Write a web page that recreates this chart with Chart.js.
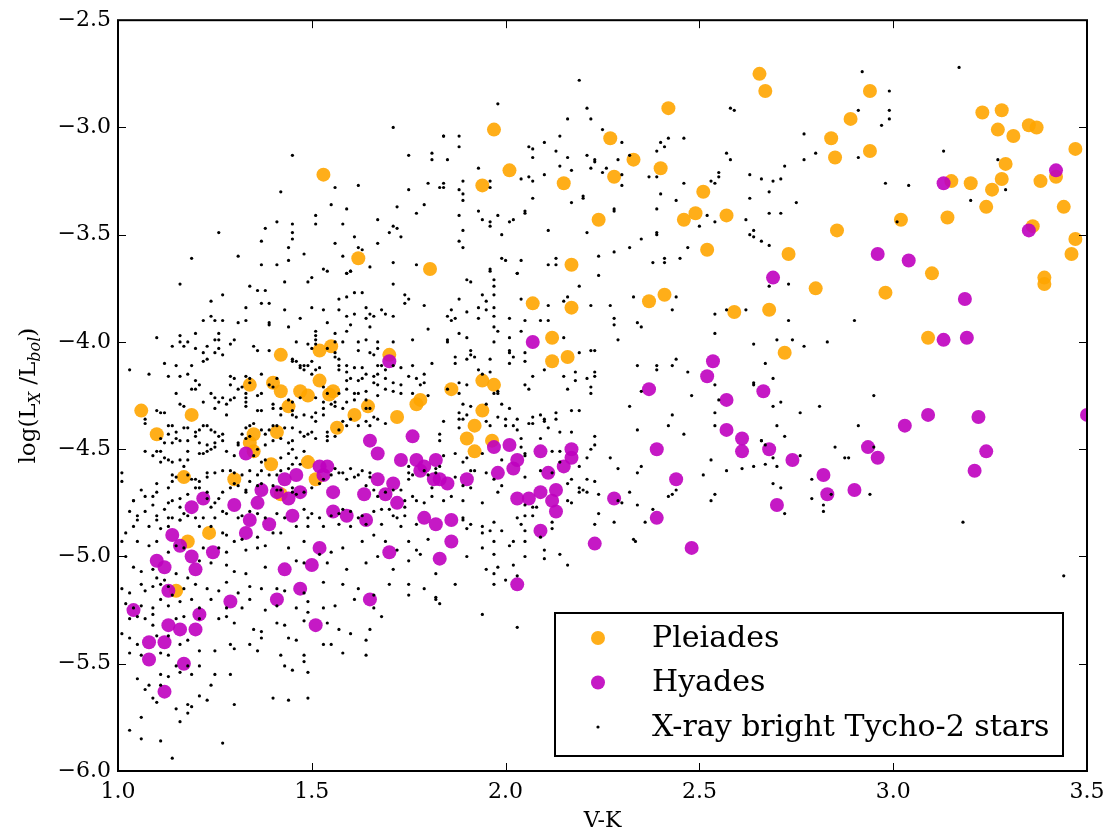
<!DOCTYPE html>
<html>
<head>
<meta charset="utf-8">
<script src="https://cdn.jsdelivr.net/npm/chart.js@4.4.0/dist/chart.umd.min.js"></script>
<style>
  html, body { margin: 0; padding: 0; background: #fff; }
  canvas { display: block; }
</style>
</head>
<body>
<canvas id="chart" width="1114" height="838"></canvas>
<script>
// V-K colour vs log(Lx/Lbol)
const xTickValues = [1.0, 1.5, 2.0, 2.5, 3.0, 3.5];
const yTickValues = [-6.0, -5.5, -5.0, -4.5, -4.0, -3.5, -3.0, -2.5];

const pleiades = [
  [1.06,-4.32],[1.10,-4.43],[1.17,-4.63],[1.19,-4.34],[1.18,-4.93],[1.15,-5.16],[1.235,-4.89],[1.30,-4.64],
  [1.34,-4.20],[1.42,-4.06],[1.40,-4.19],[1.42,-4.23],[1.44,-4.30],[1.47,-4.23],[1.49,-4.25],[1.52,-4.04],
  [1.55,-4.02],[1.52,-4.18],[1.555,-4.23],[1.545,-4.245],[1.61,-4.34],[1.645,-4.30],[1.70,-4.06],[1.78,-4.27],
  [1.77,-4.29],[1.72,-4.35],[1.565,-4.40],[1.35,-4.43],[1.34,-4.47],[1.35,-4.51],[1.41,-4.42],[1.395,-4.57],
  [1.49,-4.56],[1.51,-4.64],[1.42,-4.71],[1.805,-3.66],[1.53,-3.22],[1.62,-3.61],[1.97,-3.01],[1.94,-3.27],
  [2.01,-3.20],[2.15,-3.26],[2.27,-3.05],[2.28,-3.23],[2.33,-3.15],[2.42,-2.91],[2.40,-3.19],[2.24,-3.43],
  [2.17,-3.64],[2.51,-3.30],[2.49,-3.40],[2.46,-3.43],[2.57,-3.41],[2.52,-3.57],[2.655,-2.75],[2.67,-2.83],
  [2.94,-2.83],[2.89,-2.96],[2.84,-3.05],[2.85,-3.14],[2.94,-3.11],[3.23,-2.93],[3.28,-2.92],[3.27,-3.01],
  [3.31,-3.04],[3.35,-2.99],[3.37,-3.00],[3.47,-3.10],[3.29,-3.17],[3.28,-3.24],[3.255,-3.29],[3.20,-3.26],
  [3.15,-3.25],[3.24,-3.37],[3.38,-3.25],[3.42,-3.23],[3.44,-3.37],[3.14,-3.42],[3.02,-3.43],[2.855,-3.48],
  [2.73,-3.59],[3.36,-3.46],[3.47,-3.52],[3.46,-3.59],[3.10,-3.68],[3.39,-3.70],[3.39,-3.73],[2.80,-3.75],
  [2.98,-3.77],[2.68,-3.85],[3.09,-3.98],[2.72,-4.05],[2.07,-3.82],[2.17,-3.84],[2.12,-3.98],[2.12,-4.09],
  [2.16,-4.07],[2.37,-3.81],[2.41,-3.78],[2.59,-3.86],[1.86,-4.22],[1.94,-4.18],[1.97,-4.20],[1.94,-4.32],
  [1.92,-4.39],[1.90,-4.45],[1.92,-4.51],[1.965,-4.46]
];

const hyades = [
  [3.13,-3.26],[3.42,-3.20],[3.35,-3.48],[2.96,-3.59],[3.04,-3.62],[2.69,-3.70],[3.185,-3.80],[3.13,-3.99],
  [3.19,-3.98],[2.665,-4.23],[3.03,-4.39],[3.09,-4.34],[3.22,-4.35],[3.50,-4.34],[3.24,-4.51],[3.21,-4.60],
  [2.935,-4.49],[2.96,-4.54],[2.68,-4.50],[2.74,-4.55],[2.82,-4.62],[2.83,-4.71],[2.90,-4.69],[2.70,-4.76],
  [2.07,-4.00],[2.37,-4.22],[2.535,-4.09],[2.52,-4.16],[2.57,-4.27],[2.57,-4.41],[2.61,-4.45],[2.61,-4.51],
  [2.39,-4.50],[2.44,-4.64],[2.39,-4.82],[2.28,-4.73],[2.01,-4.48],[1.97,-4.49],[2.09,-4.51],[2.17,-4.50],
  [2.17,-4.54],[2.15,-4.58],[2.03,-4.55],[2.02,-4.59],[2.11,-4.61],[1.98,-4.61],[1.90,-4.64],[1.85,-4.66],
  [1.83,-4.64],[2.13,-4.69],[2.09,-4.70],[2.12,-4.74],[2.06,-4.73],[2.03,-4.73],[2.13,-4.79],[1.86,-4.83],
  [1.70,-4.09],[1.76,-4.44],[1.65,-4.46],[1.67,-4.52],[1.73,-4.55],[1.77,-4.55],[1.79,-4.58],[1.78,-4.60],
  [1.82,-4.55],[1.815,-4.64],[1.67,-4.64],[1.71,-4.66],[1.69,-4.71],[1.72,-4.75],[1.635,-4.71],[1.59,-4.81],
  [1.555,-4.79],[1.555,-4.70],[1.52,-4.58],[1.54,-4.58],[1.53,-4.62],[1.47,-4.70],[1.46,-4.62],[1.43,-4.64],
  [1.41,-4.70],[1.44,-4.73],[1.45,-4.81],[1.37,-4.69],[1.36,-4.75],[1.30,-4.76],[1.22,-4.73],[1.19,-4.77],
  [1.33,-4.52],[1.34,-4.83],[1.39,-4.85],[1.64,-4.83],[1.79,-4.82],[1.82,-4.85],[1.14,-4.90],[1.16,-4.95],
  [1.10,-5.02],[1.12,-5.05],[1.19,-5.00],[1.20,-5.06],[1.245,-4.98],[1.13,-5.16],[1.04,-5.25],[1.21,-5.27],
  [1.13,-5.32],[1.16,-5.34],[1.20,-5.34],[1.29,-5.21],[1.08,-5.40],[1.12,-5.40],[1.08,-5.48],[1.17,-5.50],
  [1.12,-5.63],[1.33,-4.89],[1.43,-5.06],[1.50,-5.04],[1.52,-4.96],[1.47,-5.15],[1.41,-5.20],[1.51,-5.32],
  [1.65,-5.20],[1.70,-4.98],[1.83,-5.01],[1.86,-4.93],[2.09,-4.88],[2.23,-4.94],[2.48,-4.96],[2.03,-5.13]
];

const tycho = [
  // upper left
  [1.71,-3.00],[1.45,-3.13],[1.75,-3.13],[1.81,-3.12],[1.81,-3.15],[1.84,-3.04],[1.56,-3.28],[1.62,-3.27],
  [1.75,-3.29],[1.80,-3.26],[1.83,-3.28],[1.42,-3.30],[1.55,-3.36],[1.59,-3.38],[1.72,-3.37],[1.79,-3.36],
  [1.77,-3.40],[1.51,-3.41],[1.67,-3.43],[1.41,-3.44],[1.45,-3.45],[1.51,-3.45],[1.58,-3.45],[1.71,-3.46],
  [1.72,-3.47],[1.70,-3.49],[1.73,-3.51],[1.61,-3.51],[1.38,-3.47],[1.45,-3.49],[1.45,-3.52],[1.26,-3.49],
  [1.37,-3.53],[1.44,-3.56],[1.56,-3.54],[1.62,-3.56],[1.63,-3.57],[1.67,-3.54],[1.48,-3.59],[1.19,-3.61],
  [1.31,-3.60],[1.37,-3.64],[1.41,-3.64],[1.44,-3.62],[1.58,-3.60],[1.53,-3.66],[1.59,-3.68],[1.60,-3.67],
  [1.65,-3.65],[1.71,-3.63],[1.77,-3.64],
  // upper middle
  [2.19,-2.78],[1.98,-2.89],[2.21,-2.91],[2.22,-2.96],[2.16,-2.96],[2.25,-3.01],[2.58,-2.91],[2.59,-2.92],
  [1.84,-3.04],[1.88,-3.04],[1.88,-3.09],[1.85,-3.15],[2.14,-3.04],[2.10,-3.07],[2.06,-3.09],[2.07,-3.10],
  [2.13,-3.11],[2.16,-3.14],[2.07,-3.14],[2.30,-3.07],[2.40,-3.07],[2.41,-3.09],[2.39,-3.11],[2.42,-3.05],
  [2.46,-3.05],[2.32,-3.13],[2.21,-3.13],[2.23,-3.15],[2.23,-3.16],[2.29,-3.15],[2.26,-3.19],[2.22,-3.19],
  [2.14,-3.18],[2.17,-3.20],[1.93,-3.19],[2.10,-3.22],[2.04,-3.24],[2.06,-3.23],[2.07,-3.25],[1.96,-3.25],
  [1.96,-3.28],[1.84,-3.26],[1.84,-3.28],[1.89,-3.25],[1.88,-3.29],[1.89,-3.31],[1.89,-3.34],[2.07,-3.33],
  [2.17,-3.35],[2.20,-3.32],[2.20,-3.33],[2.25,-3.21],[2.30,-3.22],[2.30,-3.27],[2.37,-3.23],[2.39,-3.23],
  [2.40,-3.31],[2.39,-3.38],[2.46,-3.26],[2.44,-3.34],[2.55,-3.21],[2.55,-3.23],[2.53,-3.25],[2.54,-3.26],
  [2.57,-3.12],[2.58,-3.15],[2.63,-3.22],[2.66,-3.24],[2.63,-3.33],[2.62,-3.43],[2.64,-3.48],[2.64,-3.51],
  [2.63,-3.50],[2.66,-3.53],[2.52,-3.41],[2.50,-3.46],[2.54,-3.44],[2.28,-3.38],[2.28,-3.39],[1.88,-3.41],
  [1.93,-3.39],[1.94,-3.43],[1.96,-3.44],[1.96,-3.46],[1.98,-3.41],[2.01,-3.44],[2.02,-3.43],[2.05,-3.40],
  [2.05,-3.39],[1.89,-3.48],[1.88,-3.53],[1.89,-3.56],[1.99,-3.50],[2.11,-3.48],[2.21,-3.49],[2.35,-3.52],
  [2.32,-3.56],[2.28,-3.58],[2.24,-3.60],[2.39,-3.49],[2.39,-3.50],[2.47,-3.56],[2.45,-3.61],[2.41,-3.61],
  [2.41,-3.63],[2.38,-3.63],[1.99,-3.61],[2.00,-3.62],[2.04,-3.62],[2.13,-3.61],[2.11,-3.64],[2.13,-3.64],
  [1.96,-3.66],[2.03,-3.68],
  // upper right
  [2.92,-2.74],[3.17,-2.72],[2.99,-2.83],[2.91,-2.92],[2.99,-2.92],[2.99,-2.96],[2.97,-2.99],[2.77,-3.03],
  [2.80,-3.12],[2.77,-3.15],[2.91,-3.14],[2.72,-3.18],[3.13,-3.11],[3.27,-3.15],[3.29,-3.29],[3.20,-3.34],
  [2.98,-3.26],[3.04,-3.27],[2.69,-3.25],[2.71,-3.24],[2.68,-3.30],[2.75,-3.35],[2.68,-3.40],[2.71,-3.40],
  [3.01,-3.44],[2.68,-3.55],
  // middle right
  [2.73,-3.73],[2.68,-3.74],[2.73,-3.90],[2.90,-3.90],[2.70,-3.99],[2.74,-3.99],[2.77,-4.02],[2.83,-4.00],
  [2.67,-4.10],[2.69,-4.17],[2.95,-4.25],[2.71,-4.28],[2.69,-4.30],[2.81,-4.30],[2.76,-4.33],[2.70,-4.39],
  [2.91,-4.39],[2.72,-4.44],[2.66,-4.46],[2.67,-4.48],[2.85,-4.49],[2.95,-4.49],[2.76,-4.53],[2.69,-4.54],
  [2.875,-4.54],[2.885,-4.54],[2.67,-4.57],[2.70,-4.58],[2.79,-4.64],[2.69,-4.66],[2.71,-4.68],[2.79,-4.73],
  [2.84,-4.71],[2.94,-4.71],[2.82,-4.76],[2.82,-4.79],[2.72,-4.80],[3.18,-4.84],[3.44,-5.09],
  // middle
  [1.96,-3.67],[2.03,-3.68],[2.24,-3.69],[1.90,-3.71],[1.91,-3.72],[1.97,-3.71],[1.97,-3.74],[2.19,-3.74],
  [1.94,-3.78],[1.97,-3.78],[1.88,-3.80],[1.95,-3.81],[2.04,-3.80],[2.16,-3.79],[2.15,-3.81],[2.33,-3.79],
  [2.44,-3.79],[1.86,-3.85],[1.90,-3.86],[1.93,-3.84],[1.95,-3.85],[1.97,-3.84],[1.85,-3.88],[1.87,-3.89],
  [1.86,-3.90],[1.93,-3.89],[1.97,-3.88],[2.01,-3.89],[2.05,-3.90],[2.09,-3.90],[2.11,-3.90],[2.11,-3.83],
  [2.22,-3.83],[2.27,-3.83],[2.28,-3.89],[2.28,-3.92],[2.34,-3.91],[2.35,-3.93],[2.43,-3.85],[2.54,-3.87],
  [2.54,-3.96],[2.57,-3.85],[2.62,-3.85],[2.64,-4.01],[1.97,-3.93],[1.98,-3.95],[1.88,-3.96],[2.04,-3.95],
  [2.15,-3.98],[2.29,-3.99],[1.90,-3.98],[2.01,-3.98],[1.85,-3.99],[1.85,-4.00],[1.97,-4.00],[1.91,-4.04],
  [1.91,-4.06],[1.92,-4.07],[1.87,-4.07],[1.90,-4.08],[1.96,-4.08],[2.01,-4.04],[2.01,-4.05],[2.02,-4.07],
  [2.05,-4.05],[2.05,-4.09],[2.19,-4.05],[2.22,-4.04],[2.23,-4.04],[1.87,-4.10],[2.01,-4.10],[2.10,-4.13],
  [2.07,-4.16],[2.15,-4.16],[2.18,-4.14],[2.21,-4.17],[2.23,-4.14],[2.23,-4.16],[1.93,-4.13],[1.96,-4.14],
  [1.94,-4.15],[2.34,-4.11],[2.39,-4.11],[2.39,-4.13],[2.43,-4.11],[2.44,-4.08],[2.47,-4.14],[2.54,-4.20],
  [2.64,-4.20],[2.64,-4.19],[2.05,-4.20],[2.06,-4.22],[2.16,-4.22],[2.22,-4.21],[2.22,-4.24],[2.18,-4.18],
  [1.88,-4.19],[1.90,-4.20],[1.85,-4.22],[1.88,-4.24],[1.98,-4.23],[1.98,-4.24],[1.97,-4.24],[1.99,-4.29],
  [2.35,-4.23],[2.48,-4.25],[2.55,-4.27],[2.32,-4.30],[1.89,-4.29],[1.91,-4.30],[1.95,-4.29],[2.01,-4.31],
  [2.17,-4.32],[2.19,-4.32],[1.88,-4.33],[1.90,-4.34],[1.98,-4.35],[2.00,-4.36],[2.03,-4.36],[2.07,-4.35],
  [2.09,-4.34],[2.13,-4.33],[2.10,-4.37],[2.10,-4.36],[2.13,-4.36],[2.06,-4.38],[2.07,-4.38],[1.84,-4.37],
  [1.88,-4.36],[1.89,-4.36],[1.95,-4.37],[1.88,-4.40],[1.96,-4.39],[2.00,-4.39],[2.02,-4.39],[2.03,-4.41],
  [2.11,-4.40],[2.14,-4.42],[2.17,-4.42],[2.43,-4.34],[2.42,-4.39],[2.34,-4.41],[2.46,-4.43],[2.54,-4.33],
  [2.54,-4.39],[2.23,-4.44],[2.23,-4.48],[2.22,-4.50],[2.27,-4.54],[2.29,-4.59],[2.34,-4.61],[2.35,-4.58],
  [2.51,-4.62],[2.53,-4.55],[2.57,-4.60],[2.61,-4.59],[2.64,-4.58],[2.66,-4.46],[1.83,-4.43],[1.83,-4.46],
  [1.87,-4.52],[1.84,-4.53],[1.94,-4.52],[1.90,-4.54],[1.89,-4.56],[1.99,-4.55],[2.05,-4.52],[2.05,-4.53],
  [2.04,-4.49],[2.04,-4.45],[2.09,-4.45],[2.12,-4.51],[2.14,-4.51],[2.14,-4.56],[2.21,-4.54],[2.19,-4.58],
  [1.95,-4.61],[1.97,-4.64],[1.99,-4.67],[1.91,-4.60],[1.92,-4.60],[1.87,-4.63],[1.89,-4.67],[1.91,-4.68],
  [2.05,-4.63],[2.09,-4.60],[2.12,-4.61],[2.17,-4.64],[2.16,-4.66],[2.21,-4.64],[2.23,-4.65],[2.19,-4.68],
  [2.20,-4.69],[2.21,-4.70],[2.19,-4.70],[2.24,-4.71],[2.32,-4.70],[2.30,-4.75],[1.98,-4.70],[1.86,-4.72],
  [1.89,-4.74],[1.94,-4.75],[1.84,-4.74],[2.05,-4.76],[2.07,-4.77],[2.08,-4.77],[2.07,-4.81],[2.05,-4.81],
  [2.03,-4.82],[2.16,-4.74],[2.17,-4.75],[2.24,-4.80],[2.29,-4.74],[2.34,-4.76],[2.38,-4.78],[2.42,-4.72],
  [2.43,-4.71],[2.44,-4.69],[2.53,-4.74],[2.54,-4.71],[1.89,-4.82],[1.97,-4.84],[2.36,-4.84],
  // lower middle
  [1.89,-4.83],[1.91,-4.85],[1.90,-4.87],[1.94,-4.86],[2.04,-4.85],[1.94,-4.89],[1.96,-4.88],[1.99,-4.88],
  [2.05,-4.88],[2.12,-4.84],[2.12,-4.87],[2.09,-4.91],[1.97,-4.93],[2.02,-4.93],[2.01,-4.95],[2.05,-4.93],
  [2.10,-4.97],[2.10,-5.01],[2.14,-4.99],[2.16,-5.04],[2.23,-4.85],[2.28,-4.84],[2.33,-4.92],[2.335,-4.93],
  [1.94,-4.96],[1.97,-4.99],[1.90,-5.00],[2.05,-5.00],[2.02,-5.04],[1.98,-5.05],[1.95,-5.06],[1.97,-5.08],
  [2.00,-5.11],[2.03,-5.09],[1.97,-5.13],[1.87,-5.13],[1.94,-5.27],[2.03,-5.33],[1.83,-5.22],
  // dense left block
  [1.54,-3.67],[1.59,-3.68],[1.60,-3.67],[1.50,-3.70],[1.49,-3.72],[1.43,-3.72],[1.34,-3.74],[1.16,-3.73],
  [1.71,-3.73],[1.36,-3.76],[1.38,-3.76],[1.27,-3.78],[1.59,-3.79],[1.61,-3.77],[1.63,-3.77],[1.57,-3.80],
  [1.74,-3.78],[1.24,-3.81],[1.37,-3.82],[1.39,-3.82],[1.50,-3.84],[1.74,-3.82],[1.75,-3.80],[1.33,-3.84],
  [1.43,-3.85],[1.53,-3.85],[1.57,-3.85],[1.64,-3.84],[1.68,-3.85],[1.79,-3.83],[1.24,-3.88],[1.25,-3.90],
  [1.22,-3.90],[1.27,-3.90],[1.31,-3.91],[1.33,-3.90],[1.39,-3.91],[1.39,-3.92],[1.47,-3.89],[1.54,-3.91],
  [1.61,-3.87],[1.59,-3.88],[1.65,-3.87],[1.66,-3.88],[1.69,-3.87],[1.71,-3.88],[1.64,-3.89],[1.60,-3.92],
  [1.44,-3.93],[1.51,-3.95],[1.56,-3.96],[1.51,-3.97],[1.59,-3.95],[1.65,-3.93],[1.80,-3.94],[1.10,-3.98],
  [1.16,-3.97],[1.20,-3.96],[1.26,-3.96],[1.16,-4.00],[1.18,-4.00],[1.14,-4.02],[1.17,-4.02],[1.20,-4.03],
  [1.23,-4.02],[1.25,-3.99],[1.26,-3.99],[1.26,-4.03],[1.25,-4.05],[1.27,-4.06],[1.22,-4.05],[1.30,-3.99],
  [1.29,-4.01],[1.35,-4.02],[1.36,-4.04],[1.39,-4.04],[1.46,-4.00],[1.49,-4.01],[1.50,-4.03],[1.51,-4.01],
  [1.51,-3.99],[1.56,-4.00],[1.58,-4.00],[1.62,-4.00],[1.64,-3.99],[1.67,-4.00],[1.71,-4.00],[1.76,-3.99],
  [1.67,-4.03],[1.65,-4.05],[1.66,-4.06],[1.62,-4.04],[1.54,-4.03],[1.56,-4.05],[1.56,-4.07],[1.57,-4.08],
  [1.45,-4.08],[1.45,-4.09],[1.46,-4.09],[1.47,-4.11],[1.48,-4.11],[1.50,-4.09],[1.49,-4.11],[1.48,-4.13],
  [1.47,-4.12],[1.52,-4.12],[1.50,-4.15],[1.51,-4.13],[1.57,-4.13],[1.59,-4.11],[1.57,-4.11],[1.61,-4.12],
  [1.63,-4.12],[1.67,-4.11],[1.68,-4.11],[1.71,-4.11],[1.69,-4.13],[1.73,-4.12],[1.76,-4.11],[1.81,-4.10],
  [1.79,-4.15],[1.78,-4.20],[1.79,-4.19],[1.77,-4.17],[1.75,-4.16],[1.73,-4.20],[1.71,-4.19],[1.69,-4.17],
  [1.67,-4.15],[1.66,-4.19],[1.67,-4.20],[1.66,-4.16],[1.64,-4.15],[1.63,-4.17],[1.62,-4.18],[1.62,-4.24],
  [1.61,-4.24],[1.64,-4.23],[1.67,-4.25],[1.69,-4.22],[1.71,-4.23],[1.73,-4.24],[1.76,-4.24],[1.80,-4.25],
  [1.03,-4.13],[1.08,-4.15],[1.12,-4.10],[1.15,-4.11],[1.19,-4.11],[1.23,-4.08],[1.22,-4.09],[1.13,-4.16],
  [1.16,-4.16],[1.18,-4.15],[1.20,-4.18],[1.21,-4.20],[1.19,-4.22],[1.20,-4.22],[1.15,-4.24],[1.24,-4.24],
  [1.25,-4.26],[1.22,-4.28],[1.16,-4.29],[1.17,-4.30],[1.10,-4.32],[1.12,-4.33],[1.11,-4.33],[1.07,-4.36],
  [1.07,-4.38],[1.13,-4.39],[1.14,-4.39],[1.17,-4.40],[1.18,-4.40],[1.15,-4.42],[1.13,-4.43],[1.11,-4.45],
  [1.15,-4.45],[1.14,-4.47],[1.16,-4.46],[1.18,-4.46],[1.12,-4.47],[1.07,-4.51],[1.10,-4.51],[1.11,-4.51],
  [1.09,-4.53],[1.12,-4.54],[1.13,-4.55],[1.11,-4.56],[1.14,-4.56],[1.16,-4.55],[1.17,-4.58],[1.18,-4.55],
  [1.18,-4.51],[1.21,-4.52],[1.22,-4.52],[1.23,-4.51],[1.24,-4.50],[1.25,-4.47],[1.27,-4.46],[1.26,-4.44],
  [1.27,-4.43],[1.25,-4.42],[1.24,-4.41],[1.23,-4.39],[1.22,-4.39],[1.21,-4.41],[1.20,-4.42],[1.20,-4.44],
  [1.21,-4.47],[1.23,-4.48],[1.25,-4.49],[1.28,-4.51],[1.30,-4.53],[1.31,-4.48],[1.31,-4.47],[1.33,-4.45],
  [1.34,-4.44],[1.32,-4.43],[1.33,-4.40],[1.35,-4.38],[1.34,-4.39],[1.37,-4.41],[1.38,-4.43],[1.39,-4.41],
  [1.40,-4.39],[1.41,-4.39],[1.43,-4.40],[1.45,-4.40],[1.47,-4.42],[1.49,-4.43],[1.50,-4.42],[1.51,-4.45],
  [1.54,-4.42],[1.54,-4.44],[1.54,-4.46],[1.56,-4.44],[1.57,-4.41],[1.59,-4.39],[1.58,-4.37],[1.60,-4.36],
  [1.62,-4.39],[1.64,-4.37],[1.65,-4.39],[1.67,-4.36],[1.69,-4.38],[1.66,-4.35],[1.65,-4.31],[1.64,-4.31],
  [1.64,-4.27],[1.61,-4.27],[1.59,-4.28],[1.58,-4.31],[1.56,-4.30],[1.55,-4.29],[1.53,-4.28],[1.53,-4.31],
  [1.51,-4.33],[1.50,-4.35],[1.48,-4.34],[1.46,-4.35],[1.45,-4.32],[1.45,-4.34],[1.42,-4.34],[1.42,-4.31],
  [1.40,-4.31],[1.37,-4.32],[1.36,-4.32],[1.33,-4.30],[1.33,-4.28],[1.33,-4.26],[1.33,-4.24],[1.30,-4.26],
  [1.29,-4.27],[1.27,-4.26],[1.26,-4.28],[1.25,-4.31],[1.28,-4.34],[1.28,-4.29],[1.31,-4.22],[1.29,-4.20],
  [1.32,-4.21],[1.34,-4.19],[1.33,-4.16],[1.34,-4.17],[1.30,-4.17],[1.29,-4.16],[1.37,-4.15],[1.41,-4.17],
  [1.40,-4.21],[1.39,-4.20],[1.37,-4.24],[1.36,-4.25],[1.40,-4.29],[1.44,-4.27],[1.45,-4.28],[1.47,-4.26],
  [1.51,-4.26],[1.53,-4.21],[1.54,-4.24],[1.57,-4.24],[1.59,-4.18],[1.60,-4.17],[1.59,-4.14],[1.59,-4.22],
  [1.56,-4.28],[1.53,-4.34],[1.51,-4.37],[1.45,-4.46],[1.48,-4.44],[1.44,-4.47],[1.42,-4.45],[1.40,-4.46],
  [1.38,-4.48],[1.36,-4.50],[1.35,-4.53],[1.37,-4.56],[1.38,-4.55],[1.42,-4.54],[1.44,-4.52],[1.45,-4.50],
  [1.46,-4.54],[1.48,-4.51],[1.47,-4.57],[1.45,-4.57],[1.44,-4.59],[1.42,-4.60],[1.41,-4.62],[1.39,-4.62],
  [1.37,-4.60],[1.36,-4.62],[1.34,-4.60],[1.34,-4.65],[1.32,-4.62],[1.30,-4.61],[1.29,-4.60],[1.27,-4.60],
  [1.25,-4.61],[1.23,-4.61],[1.23,-4.63],[1.21,-4.65],[1.20,-4.64],[1.19,-4.64],[1.18,-4.62],[1.15,-4.63],
  [1.14,-4.62],[1.14,-4.65],[1.13,-4.68],[1.10,-4.66],[1.10,-4.70],[1.09,-4.72],[1.07,-4.72],[1.06,-4.69],
  [1.04,-4.74],[1.03,-4.79],[1.05,-4.81],[1.07,-4.79],[1.09,-4.76],[1.10,-4.81],[1.12,-4.78],[1.13,-4.75],
  [1.14,-4.74],[1.14,-4.82],[1.16,-4.77],[1.16,-4.73],[1.18,-4.71],[1.20,-4.68],[1.21,-4.68],[1.23,-4.70],
  [1.23,-4.73],[1.24,-4.77],[1.25,-4.75],[1.26,-4.73],[1.27,-4.70],[1.29,-4.68],[1.30,-4.66],[1.31,-4.67],
  [1.33,-4.69],[1.33,-4.70],[1.36,-4.67],[1.37,-4.66],[1.40,-4.67],[1.41,-4.69],[1.42,-4.69],[1.45,-4.68],
  [1.45,-4.70],[1.46,-4.71],[1.48,-4.70],[1.50,-4.68],[1.52,-4.66],[1.53,-4.64],[1.55,-4.62],[1.56,-4.59],
  [1.57,-4.61],[1.58,-4.61],[1.60,-4.59],[1.59,-4.64],[1.61,-4.63],[1.62,-4.62],[1.63,-4.60],[1.65,-4.61],
  [1.65,-4.63],[1.64,-4.67],[1.66,-4.69],[1.67,-4.72],[1.69,-4.70],[1.71,-4.69],[1.73,-4.69],[1.75,-4.64],
  [1.75,-4.61],[1.75,-4.58],[1.76,-4.62],[1.79,-4.60],[1.80,-4.62],[1.82,-4.61],[1.82,-4.59],[1.83,-4.58],
  [1.81,-4.68],[1.81,-4.72],[1.79,-4.75],[1.77,-4.74],[1.76,-4.72],[1.74,-4.74],[1.74,-4.77],[1.74,-4.81],
  [1.72,-4.82],[1.71,-4.81],[1.70,-4.78],[1.68,-4.78],[1.66,-4.79],[1.63,-4.81],[1.62,-4.82],[1.60,-4.79],
  [1.58,-4.78],[1.57,-4.80],[1.55,-4.81],[1.52,-4.82],[1.50,-4.80],[1.49,-4.82],[1.48,-4.78],[1.43,-4.82],
  [1.41,-4.80],[1.38,-4.82],[1.36,-4.80],[1.34,-4.79],[1.32,-4.81],[1.31,-4.82],[1.28,-4.80],[1.27,-4.79],
  [1.25,-4.82],[1.22,-4.82],[1.20,-4.82],[1.18,-4.81],[1.17,-4.80],[1.16,-4.83],[1.13,-4.82],[1.10,-4.83],
  [1.05,-4.83],[1.01,-4.65],[1.01,-4.61],[1.04,-4.74],
  // lower left
  [1.04,-4.86],[1.08,-4.86],[1.11,-4.87],[1.13,-4.86],[1.16,-4.83],[1.21,-4.86],[1.24,-4.86],[1.27,-4.89],
  [1.28,-4.90],[1.30,-4.93],[1.32,-4.92],[1.36,-4.91],[1.40,-4.89],[1.42,-4.89],[1.46,-4.86],[1.49,-4.86],
  [1.53,-4.86],[1.57,-4.85],[1.60,-4.86],[1.64,-4.85],[1.68,-4.85],[1.73,-4.86],[1.77,-4.85],[1.02,-4.89],
  [1.01,-4.93],[1.05,-4.93],[1.08,-4.95],[1.10,-4.93],[1.13,-4.98],[1.15,-4.95],[1.17,-4.96],[1.22,-4.96],
  [1.26,-4.96],[1.28,-4.98],[1.33,-4.97],[1.36,-4.96],[1.38,-4.95],[1.44,-4.96],[1.48,-4.93],[1.52,-4.99],
  [1.55,-4.98],[1.58,-4.96],[1.63,-4.93],[1.66,-4.90],[1.69,-4.93],[1.72,-4.97],[1.75,-4.93],[1.77,-4.97],
  [1.80,-4.92],[1.02,-5.00],[1.04,-5.05],[1.06,-5.07],[1.09,-5.06],[1.10,-5.10],[1.12,-5.11],[1.15,-5.08],
  [1.18,-5.10],[1.21,-5.02],[1.24,-5.03],[1.28,-5.04],[1.30,-5.07],[1.33,-5.08],[1.38,-5.05],[1.46,-5.02],
  [1.48,-5.03],[1.54,-5.03],[1.59,-5.06],[1.64,-5.03],[1.67,-5.00],[1.71,-5.06],[1.75,-5.02],[1.78,-4.99],
  [1.82,-5.08],[1.01,-5.15],[1.03,-5.17],[1.06,-5.13],[1.07,-5.16],[1.09,-5.14],[1.11,-5.13],[1.13,-5.14],
  [1.14,-5.18],[1.17,-5.15],[1.20,-5.13],[1.23,-5.15],[1.26,-5.16],[1.28,-5.12],[1.31,-5.17],[1.34,-5.14],
  [1.37,-5.15],[1.41,-5.15],[1.43,-5.16],[1.48,-5.17],[1.53,-5.12],[1.58,-5.13],[1.62,-5.15],[1.66,-5.18],
  [1.70,-5.13],[1.75,-5.13],[1.79,-5.15],[1.82,-5.19],[1.02,-5.22],[1.04,-5.24],[1.06,-5.23],[1.09,-5.24],
  [1.11,-5.20],[1.13,-5.23],[1.16,-5.21],[1.19,-5.20],[1.21,-5.24],[1.24,-5.20],[1.28,-5.24],[1.32,-5.24],
  [1.34,-5.20],[1.38,-5.25],[1.41,-5.23],[1.46,-5.24],[1.49,-5.21],[1.53,-5.24],[1.56,-5.23],[1.61,-5.20],
  [1.66,-5.24],[1.68,-5.28],[1.75,-5.18],[1.82,-5.20],[1.03,-5.29],[1.05,-5.28],[1.07,-5.29],[1.09,-5.27],
  [1.09,-5.32],[1.15,-5.29],[1.17,-5.28],[1.21,-5.29],[1.26,-5.29],[1.28,-5.28],[1.30,-5.31],[1.35,-5.34],
  [1.37,-5.35],[1.41,-5.31],[1.43,-5.32],[1.48,-5.30],[1.49,-5.26],[1.54,-5.31],[1.57,-5.34],[1.60,-5.36],
  [1.65,-5.34],[1.64,-5.39],[1.01,-5.36],[1.03,-5.38],[1.05,-5.41],[1.10,-5.37],[1.13,-5.37],[1.16,-5.41],
  [1.18,-5.39],[1.21,-5.44],[1.25,-5.44],[1.29,-5.41],[1.30,-5.43],[1.34,-5.41],[1.36,-5.44],[1.37,-5.38],
  [1.44,-5.38],[1.46,-5.39],[1.48,-5.46],[1.53,-5.41],[1.55,-5.41],[1.58,-5.45],[1.64,-5.46],[1.03,-5.45],
  [1.06,-5.46],[1.11,-5.45],[1.13,-5.46],[1.15,-5.51],[1.16,-5.54],[1.18,-5.51],[1.21,-5.51],[1.25,-5.55],
  [1.29,-5.55],[1.42,-5.46],[1.43,-5.51],[1.45,-5.53],[1.48,-5.49],[1.49,-5.54],[1.05,-5.57],[1.07,-5.62],
  [1.08,-5.60],[1.09,-5.66],[1.10,-5.68],[1.11,-5.60],[1.13,-5.56],[1.19,-5.55],[1.21,-5.65],[1.23,-5.67],
  [1.18,-5.69],[1.15,-5.71],[1.18,-5.73],[1.19,-5.70],[1.24,-5.60],[1.30,-5.69],[1.40,-5.66],[1.44,-5.67],
  [1.49,-5.66],[1.06,-5.75],[1.03,-5.81],[1.06,-5.85],[1.11,-5.86],[1.16,-5.77],[1.27,-5.87],[1.14,-5.94],
  [1.11,-5.55]
];

const serif = "'DejaVu Serif', 'Liberation Serif', serif";
const toXY = arr => arr.map(p => ({ x: p[0], y: p[1] }));
const fmt = v => (v < 0 ? '\u2212' : '') + Math.abs(v).toFixed(1);

const legendItems = [
  { label: 'Pleiades', color: 'rgba(255,165,0,0.9)', r: 7 },
  { label: 'Hyades', color: 'rgba(191,0,191,0.9)', r: 7 },
  { label: 'X-ray bright Tycho-2 stars', color: '#000', r: 1.6 }
];

const decorations = {
  id: 'decorations',
  afterDatasetsDraw(chart) {
    const { ctx, chartArea: a, scales } = chart;
    ctx.save();
    ctx.strokeStyle = '#000';
    ctx.lineWidth = 1;
    // inward ticks on all four sides
    scales.x.ticks.forEach(t => {
      const px = Math.round(scales.x.getPixelForValue(t.value)) + 0.5;
      ctx.beginPath();
      ctx.moveTo(px, a.bottom); ctx.lineTo(px, a.bottom - 8);
      ctx.moveTo(px, a.top); ctx.lineTo(px, a.top + 8);
      ctx.stroke();
    });
    scales.y.ticks.forEach(t => {
      const py = Math.round(scales.y.getPixelForValue(t.value)) + 0.5;
      ctx.beginPath();
      ctx.moveTo(a.left, py); ctx.lineTo(a.left + 8, py);
      ctx.moveTo(a.right, py); ctx.lineTo(a.right - 8, py);
      ctx.stroke();
    });
    ctx.lineWidth = 2;
    ctx.strokeRect(a.left, a.top, a.right - a.left, a.bottom - a.top);

    // legend box, lower right inside the axes
    const w = 508, h = 143;
    const bx = a.right - 24 - w, by = a.bottom - 15 - h;
    ctx.fillStyle = '#fff';
    ctx.fillRect(bx, by, w, h);
    ctx.strokeRect(bx, by, w, h);
    ctx.font = '30px ' + serif;
    ctx.textBaseline = 'middle';
    legendItems.forEach((it, i) => {
      const ry = by + 25 + i * 44.5;
      ctx.fillStyle = it.color;
      ctx.beginPath();
      ctx.arc(bx + 43, ry, it.r, 0, Math.PI * 2);
      ctx.fill();
      ctx.fillStyle = '#000';
      ctx.fillText(it.label, bx + 97, ry + 1);
    });
    ctx.restore();
  },
  afterDraw(chart) {
    // y axis title with subscripts
    const { ctx, chartArea: a } = chart;
    const parts = [
      { t: 'log(L', sub: false }, { t: 'X', sub: true }, { t: ' /L', sub: false },
      { t: 'bol', sub: true }, { t: ')', sub: false }
    ];
    const big = '23px ' + serif, small = 'italic 16px ' + serif;
    ctx.save();
    let total = 0;
    parts.forEach(p => { ctx.font = p.sub ? small : big; p.w = ctx.measureText(p.t).width; total += p.w; });
    ctx.translate(28, (a.top + a.bottom) / 2);
    ctx.rotate(-Math.PI / 2);
    ctx.fillStyle = '#000';
    ctx.textBaseline = 'alphabetic';
    let x = -total / 2;
    parts.forEach(p => {
      ctx.font = p.sub ? small : big;
      ctx.fillText(p.t, x, p.sub ? 12 : 7);
      x += p.w;
    });
    ctx.restore();
  }
};

new Chart(document.getElementById('chart'), {
  type: 'scatter',
  data: {
    datasets: [
      {
        label: 'Pleiades',
        data: toXY(pleiades),
        backgroundColor: 'rgba(255,165,0,0.9)',
        borderWidth: 0,
        pointRadius: 7,
        order: 3,
        clip: 0
      },
      {
        label: 'Hyades',
        data: toXY(hyades),
        backgroundColor: 'rgba(191,0,191,0.9)',
        borderWidth: 0,
        pointRadius: 7,
        order: 2,
        clip: 0
      },
      {
        label: 'X-ray bright Tycho-2 stars',
        data: toXY(tycho),
        backgroundColor: '#000',
        borderWidth: 0,
        pointRadius: 1.6,
        order: 1,
        clip: 0
      }
    ]
  },
  options: {
    responsive: false,
    animation: false,
    devicePixelRatio: 1,
    layout: { padding: { top: 18, right: 27, left: 0, bottom: 0 } },
    plugins: { legend: { display: false }, tooltip: { enabled: false } },
    scales: {
      x: {
        type: 'linear',
        min: 1.0,
        max: 3.5,
        afterBuildTicks: s => { s.ticks = xTickValues.map(v => ({ value: v })); },
        afterFit: s => { s.height = 67; },
        grid: { display: false, drawTicks: false },
        border: { display: false },
        ticks: { color: '#000', padding: 8, font: { family: serif, size: 22 }, callback: v => fmt(v) },
        title: { display: true, text: 'V-K', color: '#000', font: { family: serif, size: 22 }, padding: { top: 0, bottom: 4 } }
      },
      y: {
        type: 'linear',
        min: -6.0,
        max: -2.5,
        afterBuildTicks: s => { s.ticks = yTickValues.map(v => ({ value: v })); },
        afterFit: s => { s.width = 118; },
        grid: { display: false, drawTicks: false },
        border: { display: false },
        ticks: { color: '#000', padding: 7, font: { family: serif, size: 22 }, callback: v => fmt(v) }
      }
    }
  },
  plugins: [decorations]
});
</script>
</body>
</html>
